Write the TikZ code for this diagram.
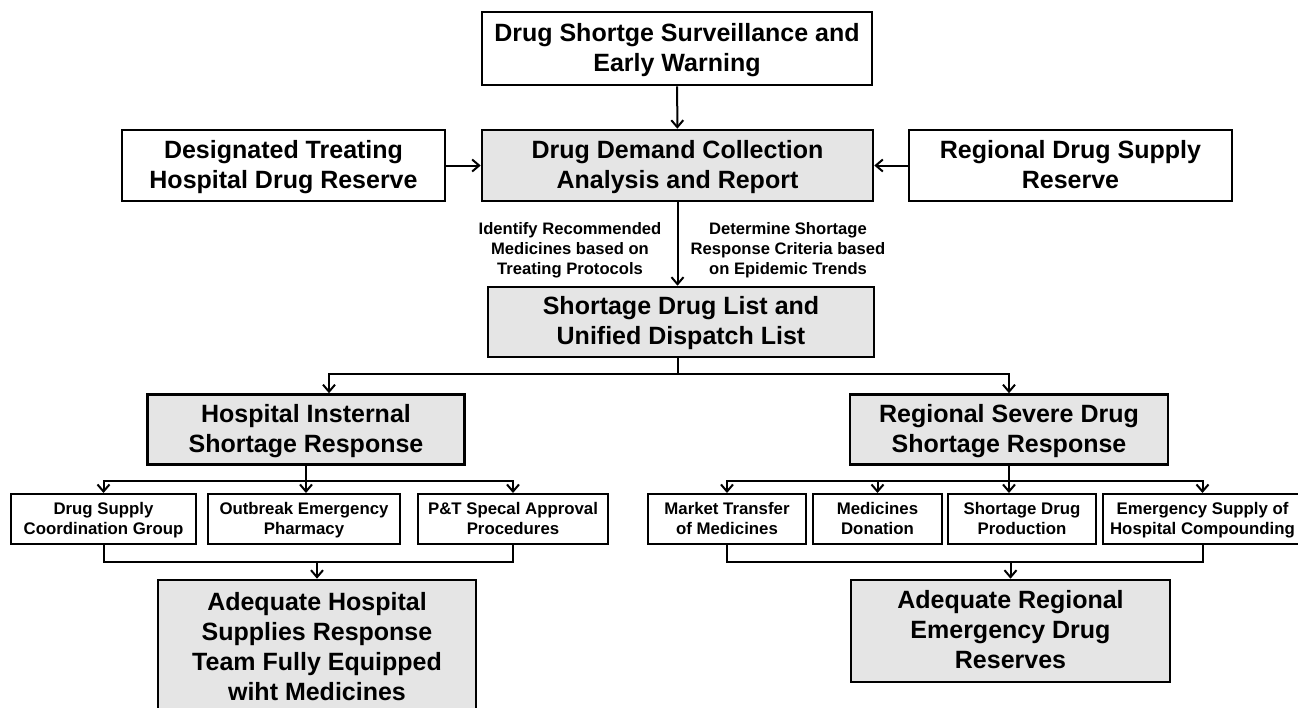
\documentclass[tikz,border=0pt]{standalone}
\usepackage{fontspec}
\setmainfont{Liberation Sans}
\usetikzlibrary{arrows.meta}

\tikzset{
  box/.style={draw, line width=1.3pt, align=center, inner sep=0pt,
    font=\bfseries\fontsize{12.5}{15}\selectfont,
    execute at begin node=\strut, text depth=1.2pt},
  greybox/.style={box, fill=gray!20},
  smallbox/.style={draw, line width=1pt, align=center, inner sep=0pt,
    minimum height=25pt, font=\bfseries\fontsize{8.4}{10}\selectfont,
    execute at begin node=\strut, text depth=1pt},
  note/.style={align=center, font=\bfseries\fontsize{8.3}{10}\selectfont,
    execute at begin node=\strut, text depth=0pt},
  link/.style={line width=1pt, -{Straight Barb[length=3.5pt,width=6pt]}},
}

\begin{document}
\begin{tikzpicture}[x=0.5pt, y=-0.5pt]
  \useasboundingbox (0,0) rectangle (1298,708);
  \clip (0,0) rectangle (1298,708);

  % upper part
  \node[box, minimum width=195pt, minimum height=36.5pt] (warn) at (677,48.5)
    {Drug Shortge Surveillance and\\Early Warning};
  \node[greybox, minimum width=195.5pt, minimum height=35.5pt] (demand) at (677.5,165.5)
    {Drug Demand Collection\\Analysis and Report};
  \node[box, minimum width=161.5pt, minimum height=35.5pt] (hosres) at (283.5,165.5)
    {Designated Treating\\Hospital Drug Reserve};
  \node[box, minimum width=161.5pt, minimum height=35.5pt] (regres) at (1070.5,165.5)
    {Regional Drug Supply\\Reserve};
  \node[note] (ident) at (570,248)
    {Identify Recommended\\Medicines based on\\Treating Protocols};
  \node[note] (crit) at (788,248)
    {Determine Shortage\\Response Criteria based\\on Epidemic Trends};
  \node[greybox, minimum width=193pt, minimum height=35pt] (list) at (681,322)
    {Shortage Drug List and\\Unified Dispatch List};

  % two responses
  \node[greybox, minimum width=158.5pt, minimum height=35pt] (hosp) at (306,429.5)
    {Hospital Insternal\\Shortage Response};
  \node[greybox, minimum width=159pt, minimum height=35pt] (regsev) at (1009,429.5)
    {Regional Severe Drug\\Shortage Response};

  % measures
  \node[smallbox, minimum width=92.5pt] (coord) at (103.5,519) {Drug Supply\\Coordination Group};
  \node[smallbox, minimum width=96pt] (pharm) at (304,519) {Outbreak Emergency\\Pharmacy};
  \node[smallbox, minimum width=95pt] (approv) at (513,519) {P\&T Specal Approval\\Procedures};
  \node[smallbox, minimum width=79pt] (market) at (727,519) {Market Transfer\\of Medicines};
  \node[smallbox, minimum width=64.5pt] (donat) at (877.5,519) {Medicines\\Donation};
  \node[smallbox, minimum width=74pt] (prod) at (1022,519) {Shortage Drug\\Production};
  \node[smallbox, minimum width=99.5pt] (compd) at (1202.5,519) {Emergency Supply of\\Hospital Compounding};

  % results
  \node[greybox, minimum width=159pt, minimum height=68pt] (hosok) at (317,648)
    {Adequate Hospital\\Supplies Response\\Team Fully Equipped\\wiht Medicines};
  \node[greybox, minimum width=159.5pt, minimum height=51pt] (regok) at (1010.5,631)
    {Adequate Regional\\Emergency Drug\\Reserves};

  % connectors
  \draw[link] (warn) -- (demand);
  \draw[link] (hosres) -- (demand);
  \draw[link] (regres) -- (demand);
  \draw[link] (demand) -- (demand |- list.north);
  \draw[line width=1pt] (demand |- list.south) -- ++(0,16) coordinate (split);
  \draw[link] (split) -| ([xshift=11.5pt]hosp.north);
  \draw[link] (split) -| (regsev.north);

  \draw[line width=1pt] (hosp.south) -- ++(0,15) coordinate (hsplit);
  \draw[link] (hsplit) -| (coord.north);
  \draw[link] (hsplit) -- (hsplit |- pharm.north);
  \draw[link] (hsplit) -| (approv.north);
  \draw[line width=1pt] (coord.south) -- ++(0,17) coordinate (hjoin) -| (approv.south);
  \draw[link] (hjoin -| hosok.north) -- (hosok.north);

  \draw[line width=1pt] (regsev.south) -- ++(0,15) coordinate (rsplit);
  \draw[link] (rsplit) -| (market.north);
  \draw[link] (rsplit) -| (donat.north);
  \draw[link] (rsplit) -- (rsplit |- prod.north);
  \draw[link] (rsplit) -| (compd.north);
  \draw[line width=1pt] (market.south) -- ++(0,17) coordinate (rjoin) -| (compd.south);
  \draw[link] (rjoin -| regok.north) -- (regok.north);
\end{tikzpicture}
\end{document}
